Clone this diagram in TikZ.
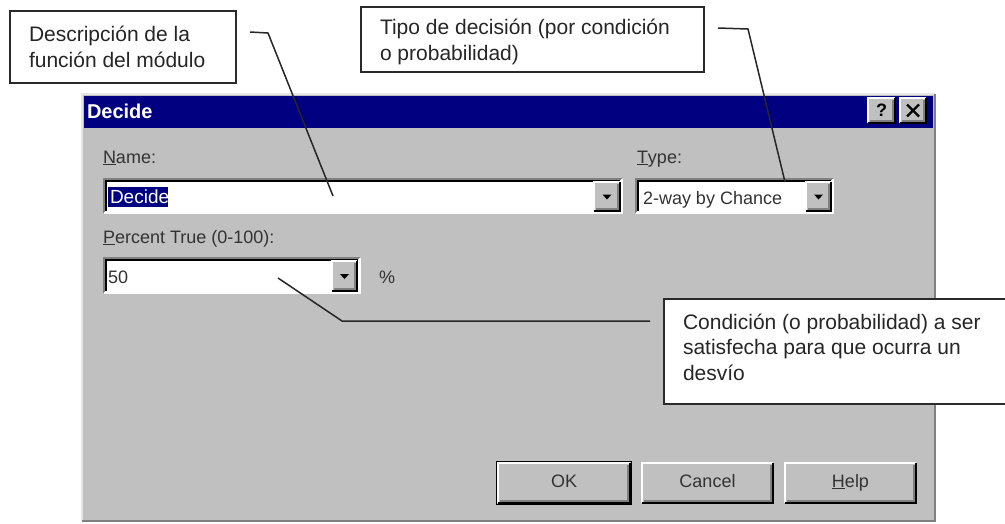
\documentclass[tikz,border=0pt]{standalone}
\usepackage{fontspec}
\setmainfont{Liberation Sans}
\usetikzlibrary{calc}
\definecolor{dlggray}{HTML}{C0C0C0}
\definecolor{dlgdark}{HTML}{808080}
\definecolor{titlenavy}{HTML}{000080}
\definecolor{framegray}{HTML}{2A2A2A}

% raised 3D bevel around a node
\newcommand\dlgRaise[1]{%
  \draw[white, line width=1.6pt] (#1.south west) -- (#1.north west) -- (#1.north east);
  \draw[black, line width=1.6pt] (#1.north east) -- (#1.south east) -- (#1.south west);
  \draw[dlgdark, line width=1.4pt] ([xshift=-2pt,yshift=-2pt]#1.north east) -- ([xshift=-2pt,yshift=2pt]#1.south east) -- ([xshift=2pt,yshift=2pt]#1.south west);
}
% sunken 3D bevel around a node
\newcommand\dlgSink[1]{%
  \draw[dlgdark, line width=1.6pt] (#1.south west) -- (#1.north west) -- (#1.north east);
  \draw[white, line width=1.6pt] (#1.north east) -- (#1.south east) -- (#1.south west);
  \draw[black, line width=1.4pt] ([xshift=2pt,yshift=2pt]#1.south west) -- ([xshift=2pt,yshift=-2pt]#1.north west) -- ([xshift=-2pt,yshift=-2pt]#1.north east);
}
% small down arrow of a drop-down button
\newcommand\dlgArrow[1]{%
  \fill[black] ([xshift=-4.5pt,yshift=2pt]#1.center) -- ([xshift=4.5pt,yshift=2pt]#1.center) -- ([yshift=-3pt]#1.center) -- cycle;
}

\begin{document}
\begin{tikzpicture}[x=1pt,y=-1pt,
  every node/.style={inner sep=0pt, outer sep=0pt},
  calloutbox/.style={draw=framegray, line width=1.4pt, fill=white, anchor=north west},
  callouttext/.style={anchor=base west, align=left, font=\fontsize{21}{25.5}\selectfont, text=black!85},
  leader/.style={draw=black!85, line width=1.5pt},
  uilabel/.style={anchor=base west, font=\fontsize{18}{21}\selectfont, text=black!80},
  field/.style={fill=white, anchor=north west},
  ddbtn/.style={fill=dlggray, anchor=north west},
  pushbtn/.style={fill=dlggray, anchor=north west, minimum height=40pt,
                  text height=13pt, text depth=5pt,
                  font=\fontsize{18}{21}\selectfont, text=black!80},
]
\clip (0,0) rectangle (1005,523);
\fill[white] (0,0) rectangle (1005,523);

% ---------------- dialog window ----------------
\node[fill=dlggray, anchor=north west, minimum width=853pt, minimum height=427pt] (dialog) at (82,94) {};
\draw[white!60!dlggray, line width=1.5pt] (dialog.south west) -- (dialog.north west) -- (dialog.north east);
\draw[dlgdark, line width=1.5pt] (dialog.north east) -- (dialog.south east) -- (dialog.south west);

\node[fill=titlenavy, anchor=north west, minimum width=849pt, minimum height=32pt] (titlebar) at (84,96) {};
\node[anchor=base west, font=\bfseries\fontsize{20}{22}\selectfont, text=white] (title) at (87,118) {Decide};

\node[ddbtn, minimum width=27pt, minimum height=25pt, font=\bfseries\fontsize{18}{18}\selectfont] (qbtn) at (868,98) {?};
\dlgRaise{qbtn}
\node[ddbtn, minimum width=26pt, minimum height=25pt] (xbtn) at (900,98) {};
\dlgRaise{xbtn}
\draw[black, line width=2.2pt] ([xshift=-6pt,yshift=6pt]xbtn.center) -- ([xshift=6pt,yshift=-6pt]xbtn.center)
                               ([xshift=-6pt,yshift=-6pt]xbtn.center) -- ([xshift=6pt,yshift=6pt]xbtn.center);

% Name field
\node[uilabel] (namelbl) at (103,163) {\underline{N}ame:};
\node[field, minimum width=518pt, minimum height=34pt] (namebox) at (104,179) {};
\dlgSink{namebox}
\node[ddbtn, minimum width=26pt, minimum height=29pt] (namedd) at (594,182) {};
\dlgRaise{namedd}
\dlgArrow{namedd}
\node[fill=titlenavy, anchor=north west, minimum width=60pt, minimum height=20pt] (namesel) at (108,187) {};
\node[anchor=base west, font=\fontsize{19}{21}\selectfont, text=white] (nameval) at (110,203) {Decide};

% Type field
\node[uilabel] (typelbl) at (637,163) {\underline{T}ype:};
\node[field, minimum width=197pt, minimum height=34pt] (typebox) at (636,179) {};
\dlgSink{typebox}
\node[ddbtn, minimum width=25pt, minimum height=29pt] (typedd) at (806,182) {};
\dlgRaise{typedd}
\dlgArrow{typedd}
\node[uilabel] (typeval) at (643,204) {2-way by Chance};

% Percent field
\node[uilabel] (pctlbl) at (103,243) {\underline{P}ercent True (0-100):};
\node[field, minimum width=256pt, minimum height=35pt] (pctbox) at (104,258) {};
\dlgSink{pctbox}
\node[ddbtn, minimum width=25pt, minimum height=30pt] (pctdd) at (332,261) {};
\dlgRaise{pctdd}
\dlgArrow{pctdd}
\node[uilabel] (pctval) at (108,283) {50};
\node[uilabel] (pctsign) at (379,283) {\%};

% push buttons
\node[pushbtn, minimum width=132pt] (okbtn) at (498,463) {OK};
\draw[black, line width=1.2pt] ([xshift=-1.5pt,yshift=1.5pt]okbtn.north west) rectangle ([xshift=1.5pt,yshift=-1.5pt]okbtn.south east);
\dlgRaise{okbtn}
\node[pushbtn, minimum width=131pt] (cancelbtn) at (642,463) {Cancel};
\dlgRaise{cancelbtn}
\node[pushbtn, minimum width=131pt] (helpbtn) at (785,463) {\underline{H}elp};
\dlgRaise{helpbtn}

% ---------------- callouts ----------------
% (multi-line text nodes: the base anchor sits on the last line)
\node[calloutbox, minimum width=226pt, minimum height=72pt] (desc) at (10,11) {};
\node[callouttext] (desctext) at (29,67) {Descripción de la\\función del módulo};

\node[calloutbox, minimum width=343pt, minimum height=65pt] (tipo) at (361,7) {};
\node[callouttext] (tipotext) at (380,60) {Tipo de decisión (por condición\\o probabilidad)};

\node[calloutbox, minimum width=350pt, minimum height=105pt] (cond) at (664,299) {};
\node[callouttext] (condtext) at (683,380) {Condición (o probabilidad) a ser\\satisfecha para que ocurra un\\desvío};

% ---------------- leader lines ----------------
\coordinate (descend) at (250,32);
\coordinate (descknee) at (268,33);
\coordinate (nametip) at (333,196);
\draw[leader] (descend) -- (descknee) -- (nametip);

\coordinate (tipoend) at (718,28);
\coordinate (tipoknee) at (748,29);
\coordinate (typetip) at (785,182);
\draw[leader] (tipoend) -- (tipoknee) -- (typetip);

\coordinate (condend) at (650,321);
\coordinate (condknee) at (342,321);
\coordinate (pcttip) at (278,278);
\draw[leader] (condend) -- (condknee) -- (pcttip);
\end{tikzpicture}
\end{document}
